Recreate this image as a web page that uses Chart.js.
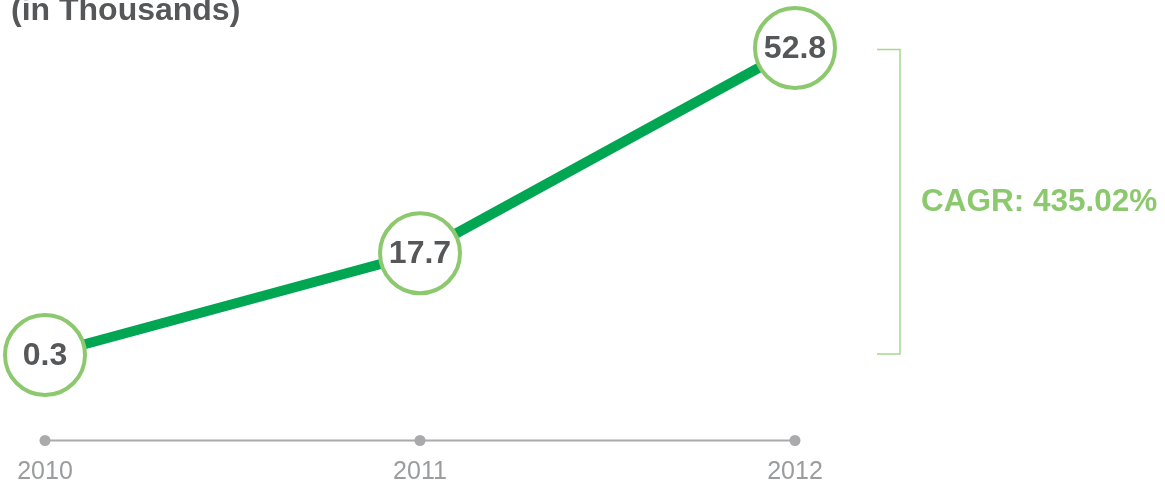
<!DOCTYPE html>
<html>
<head>
<meta charset="utf-8">
<script src="https://cdn.jsdelivr.net/npm/chart.js@4/dist/chart.umd.min.js"></script>
<style>
  html, body { margin: 0; padding: 0; background: #fff; }
  #wrap { width: 1165px; height: 489px; position: relative; }
</style>
</head>
<body>
<div id="wrap"><canvas id="chart"></canvas></div>
<script>
// Data
const years = ["2010", "2011", "2012"];
const values = [0.3, 17.7, 52.8];
const titleText = "(in Thousands)";
const cagrText = "CAGR: 435.02%";

const lineGreen = "#00a651";
const ringGreen = "#8cc96e";
const bracketGreen = "#a8d78e";
const darkText = "#555759";
const axisGray = "#aaaaad";

// draws the title, labels in the circles, bottom axis and the CAGR bracket
const decorations = {
  id: "decorations",
  afterDatasetsDraw(chart) {
    const ctx = chart.ctx;
    const x = chart.scales.x;
    const y = chart.scales.y;
    const meta = chart.getDatasetMeta(0);
    ctx.save();

    // title (cut off at the top like the original)
    ctx.fillStyle = darkText;
    ctx.font = "bold 32px 'Liberation Sans', Arial, sans-serif";
    ctx.textAlign = "left";
    ctx.textBaseline = "alphabetic";
    ctx.fillText(titleText, 11, 20);

    // value labels inside the rings
    ctx.font = "bold 32px 'Liberation Sans', Arial, sans-serif";
    ctx.textAlign = "center";
    ctx.textBaseline = "middle";
    meta.data.forEach((pt, i) => {
      ctx.fillText(String(values[i]), pt.x, pt.y + 1);
    });

    // bottom axis with dots
    const axisY = 440.5;
    ctx.strokeStyle = axisGray;
    ctx.lineWidth = 2;
    ctx.beginPath();
    ctx.moveTo(x.getPixelForValue(0), axisY);
    ctx.lineTo(x.getPixelForValue(years.length - 1), axisY);
    ctx.stroke();
    ctx.fillStyle = axisGray;
    years.forEach((yr, i) => {
      const px = x.getPixelForValue(i);
      ctx.beginPath();
      ctx.arc(px, axisY, 5.5, 0, Math.PI * 2);
      ctx.fill();
    });
    ctx.fillStyle = "#9b9c9e";
    ctx.font = "25px 'Liberation Sans', Arial, sans-serif";
    years.forEach((yr, i) => {
      ctx.fillText(yr, x.getPixelForValue(i), 472);
    });

    // bracket spanning first to last value
    const top = y.getPixelForValue(values[values.length - 1]) + 1.5;
    const bot = y.getPixelForValue(values[0]) - 1;
    ctx.strokeStyle = bracketGreen;
    ctx.lineWidth = 1.5;
    ctx.beginPath();
    ctx.moveTo(877, top);
    ctx.lineTo(900, top);
    ctx.lineTo(900, bot);
    ctx.lineTo(877, bot);
    ctx.stroke();

    ctx.fillStyle = ringGreen;
    ctx.font = "bold 31.5px 'Liberation Sans', Arial, sans-serif";
    ctx.textAlign = "left";
    ctx.fillText(cagrText, 921, (top + bot) / 2 + 1);

    ctx.restore();
  },
};

new Chart(document.getElementById("chart"), {
  type: "line",
  data: {
    labels: years,
    datasets: [
      {
        data: values,
        borderColor: lineGreen,
        borderWidth: 10,
        pointRadius: 40,
        pointHoverRadius: 40,
        pointBorderWidth: 4,
        pointBackgroundColor: "#ffffff",
        pointBorderColor: ringGreen,
        tension: 0,
        clip: false,
      },
    ],
  },
  options: {
    responsive: true,
    maintainAspectRatio: false,
    animation: false,
    layout: { padding: { left: 45, right: 370, top: 48, bottom: 134 } },
    scales: {
      x: { type: "category", offset: false, display: false },
      y: { min: 0.3, max: 52.8, display: false },
    },
    plugins: {
      legend: { display: false },
      tooltip: { enabled: false },
    },
  },
  plugins: [decorations],
});
</script>
</body>
</html>
